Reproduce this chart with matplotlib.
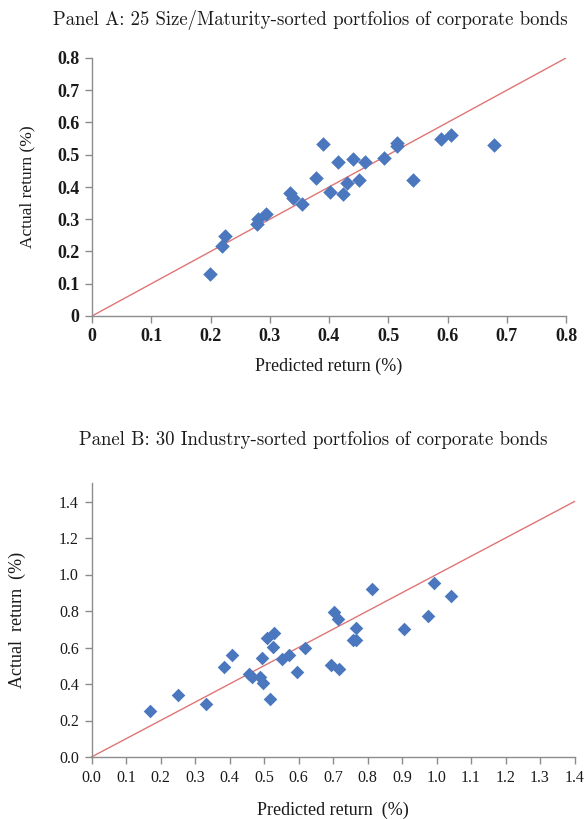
import matplotlib
matplotlib.use("Agg")
import matplotlib.pyplot as plt

# Panel A data: 25 Size/Maturity-sorted portfolios
a_pred = [0.199, 0.220, 0.225, 0.279, 0.281, 0.294, 0.334, 0.339, 0.354, 0.378,
          0.390, 0.401, 0.416, 0.424, 0.430, 0.440, 0.451, 0.461, 0.492, 0.514,
          0.515, 0.541, 0.589, 0.606, 0.678]
a_act = [0.129, 0.218, 0.248, 0.285, 0.302, 0.317, 0.380, 0.365, 0.347, 0.427,
         0.533, 0.383, 0.476, 0.378, 0.411, 0.486, 0.422, 0.476, 0.489, 0.537,
         0.527, 0.422, 0.548, 0.560, 0.529]
a_ticks = [0, 0.1, 0.2, 0.3, 0.4, 0.5, 0.6, 0.7, 0.8]
a_ticklabels = ["0", "0.1", "0.2", "0.3", "0.4", "0.5", "0.6", "0.7", "0.8"]
a_line = [0, 0.8]

# Panel B data: 30 Industry-sorted portfolios
b_pred = [0.170, 0.251, 0.332, 0.385, 0.407, 0.456, 0.466, 0.488, 0.498, 0.494,
          0.516, 0.509, 0.530, 0.526, 0.552, 0.573, 0.595, 0.619, 0.695, 0.717,
          0.704, 0.714, 0.812, 0.767, 0.757, 0.767, 0.905, 0.975, 0.993, 1.043]
b_act = [0.252, 0.338, 0.289, 0.491, 0.561, 0.456, 0.437, 0.440, 0.407, 0.541,
         0.316, 0.654, 0.681, 0.604, 0.539, 0.559, 0.467, 0.599, 0.504, 0.482,
         0.796, 0.754, 0.922, 0.705, 0.641, 0.641, 0.700, 0.771, 0.953, 0.882]
b_xticks = [i / 10 for i in range(15)]
b_yticks = [0.0, 0.2, 0.4, 0.6, 0.8, 1.0, 1.2, 1.4]
b_line = [0, 1.4]

title_a = "Panel A: 25 Size/Maturity-sorted portfolios of corporate bonds"
title_b = "Panel B: 30 Industry-sorted portfolios of corporate bonds"

marker_color = "#4a77bd"
line_color = "#e07575"
axis_color = "#8c8c8c"
text_color = "#1a1a1a"

fig = plt.figure(figsize=(5.84, 8.19), dpi=100)

def style(ax):
    for s in ["top", "right"]:
        ax.spines[s].set_visible(False)
    for s in ["left", "bottom"]:
        ax.spines[s].set_color(axis_color)
        ax.spines[s].set_linewidth(1.0)
    ax.tick_params(direction="out", length=5, width=1.0, color=axis_color,
                   labelcolor=text_color, pad=4)

# Panel A
axA = fig.add_axes([92 / 584, 1 - 316 / 819, 474 / 584, 258 / 819])
axA.plot(a_line, a_line, color=line_color, lw=1.0, zorder=1)
axA.scatter(a_pred, a_act, marker="D", s=55, color=marker_color, zorder=2, linewidths=0)
axA.set_xlim(0, 0.8)
axA.set_ylim(0, 0.8)
axA.set_xticks(a_ticks)
axA.set_xticklabels(a_ticklabels)
axA.set_yticks(a_ticks)
axA.set_yticklabels(a_ticklabels)
style(axA)
for lab in axA.get_xticklabels() + axA.get_yticklabels():
    lab.set_fontfamily("Liberation Serif")
    lab.set_fontweight("bold")
    lab.set_fontsize(13)
axA.set_xlabel("Predicted return (%)", fontfamily="Liberation Serif",
               fontsize=13, color=text_color, labelpad=9)
axA.set_ylabel("Actual return (%)", fontfamily="Liberation Serif",
               fontsize=12.5, color=text_color, labelpad=16)

# Panel B
axB = fig.add_axes([91.5 / 584, 1 - 757 / 819, 483 / 584, 273.75 / 819])
axB.plot(b_line, b_line, color=line_color, lw=1.0, zorder=1, clip_on=False)
axB.scatter(b_pred, b_act, marker="D", s=48, color=marker_color, zorder=2, linewidths=0)
axB.set_xlim(0, 1.4)
axB.set_ylim(0, 1.5)
axB.set_xticks(b_xticks)
axB.set_xticklabels([f"{v:.1f}" for v in b_xticks])
axB.set_yticks(b_yticks)
axB.set_yticklabels([f"{v:.1f}" for v in b_yticks])
style(axB)
for lab in axB.get_xticklabels() + axB.get_yticklabels():
    lab.set_fontfamily("Liberation Serif")
    lab.set_fontsize(11.5)
axB.set_xlabel("Predicted return  (%)", fontfamily="Liberation Serif",
               fontsize=13, color=text_color, labelpad=12)
axB.set_ylabel("Actual  return  (%)", fontfamily="Liberation Serif",
               fontsize=13, color=text_color, labelpad=24)

fig.text(0.531, 1 - 20 / 819, title_a, ha="center", va="center",
         fontfamily="cmr10", fontsize=13.5, color=text_color)
fig.text(0.536, 1 - 440 / 819, title_b, ha="center", va="center",
         fontfamily="cmr10", fontsize=13.5, color=text_color)

fig.savefig("out.png", dpi=100)
